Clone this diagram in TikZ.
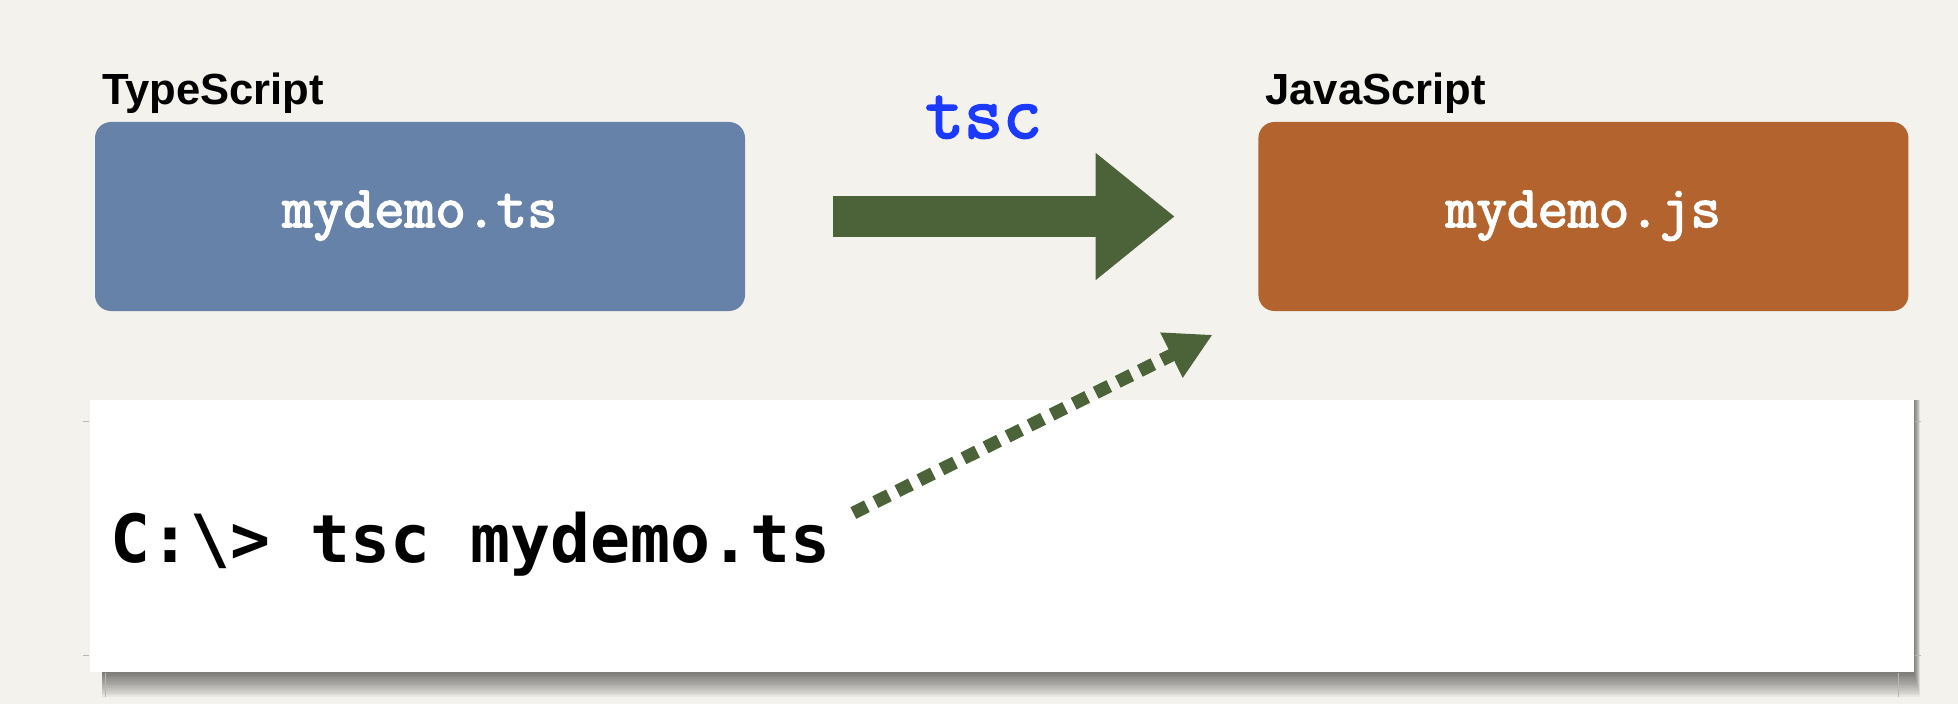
\documentclass[tikz,border=0pt]{standalone}
\usepackage{fontspec}
\newfontfamily\labelfont{Liberation Sans}
\newfontfamily\cmdfont{DejaVu Sans Mono}
\newfontfamily\filefont{Latin Modern Mono}[FakeBold=2.5]
\usetikzlibrary{arrows.meta, positioning, calc}
\definecolor{paper}{RGB}{244,242,237}
\definecolor{tsblue}{RGB}{103,130,168}
\definecolor{jsorange}{RGB}{179,99,46}
\definecolor{arrowgreen}{RGB}{76,98,57}
\definecolor{tscblue}{RGB}{28,58,255}
\definecolor{cropgray}{RGB}{185,183,178}

\begin{document}
\begin{tikzpicture}[
  filebox/.style={rounded corners=0.16cm, minimum width=6.5cm, minimum height=1.89cm,
    inner sep=0pt, text=white, text height=0.8em, text depth=0.2em,
    font=\filefont\fontsize{16.9}{20}\selectfont},
  langlabel/.style={anchor=base west, inner sep=0pt,
    font=\labelfont\bfseries\fontsize{12.4}{15}\selectfont},
  bigarrow/.style={arrowgreen, line width=11.4pt, -{Triangle[length=22.5pt, width=34.7pt]}},
  dotarrow/.style={arrowgreen, line width=3.7pt, dash pattern=on 4.3pt off 2.7pt,
    -{Triangle[length=13.1pt, width=13.4pt]}},
  cropline/.style={cropgray, line width=0.3pt}
]
  \useasboundingbox (0,0) rectangle (19.58,7.04);
  \fill[paper] (0,0) rectangle (19.58,7.04);

  % command panel with its shadow
  \coordinate (panelnw) at (0.90,3.04);
  \coordinate (panelse) at (19.14,0.32);
  \foreach \d in {1,...,14}
    \fill[black, opacity=0.045] ([xshift=0.12cm]panelnw)
      rectangle ([xshift={\d*0.0045cm}, yshift={-\d*0.018cm}]panelse);
  \node[fill=white, minimum width=18.24cm, minimum height=2.72cm, inner sep=0pt]
    (panel) at ($(panelnw)!0.5!(panelse)$) {};
  \draw[cropline] ([yshift=-0.22cm]panel.north east) -- ++(0.06,0);
  \draw[cropline] ([yshift=0.17cm]panel.south east) -- ++(0.06,0);
  \draw[cropline] ([xshift=-0.16cm]panel.south east) -- ++(0,-0.24);
  \draw[cropline] ([yshift=-0.22cm]panel.north west) -- ++(-0.06,0);
  \draw[cropline] ([yshift=0.17cm]panel.south west) -- ++(-0.06,0);
  \draw[cropline] ([xshift=0.16cm]panel.south west) -- ++(0,-0.24);

  \node[anchor=base west, inner sep=0pt, font=\cmdfont\bfseries\fontsize{18.9}{22}\selectfont]
    (cmd) at (1.10,1.42) {C:\textbackslash> tsc mydemo.ts};

  % source and output files
  \node[filebox, fill=tsblue] (ts) at (4.20,4.875) {mydemo.ts};
  \node[filebox, fill=jsorange, right=5.12cm of ts] (js) {mydemo.js};
  \node[langlabel] at ([shift={(0.07,0.17)}]ts.north west) {TypeScript};
  \node[langlabel] at ([shift={(0.07,0.17)}]js.north west) {JavaScript};

  % compiler step
  \draw[bigarrow, shorten <=0.87cm, shorten >=0.83cm] (ts.east) -- (js.west);
  \node[anchor=base, inner sep=0pt, text=tscblue, font=\filefont\fontsize{21.5}{25}\selectfont]
    (tsc) at (9.835,5.66) {tsc};

  % command produces the output
  \coordinate (cmdend) at ([shift={(0.22,0.49)}]cmd.base east);
  \coordinate (jsfoot) at ([shift={(-0.45,-0.23)}]js.south west);
  \draw[dotarrow] (cmdend) -- (jsfoot);
\end{tikzpicture}
\end{document}
